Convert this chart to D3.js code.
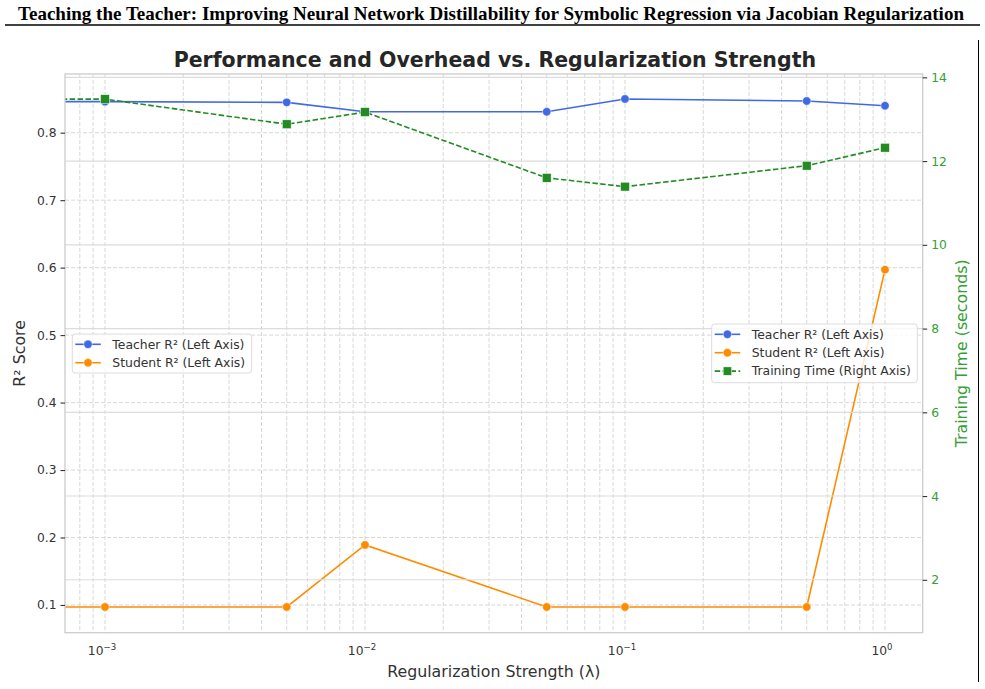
<!DOCTYPE html>
<html>
<head>
<meta charset="utf-8">
<script src="https://cdn.jsdelivr.net/npm/d3@7"></script>
<style>
  body { margin: 0; background: #fff; }
  svg { display: block; }
</style>
</head>
<body>
<div id="chart"></div>
<script>
// Data (lambda = 0 is the unregularized run, clipped off the log axis)
const lambdas = [0, 0.001, 0.005, 0.01, 0.05, 0.1, 0.5, 1.0];
const teacherR2 = [0.847, 0.846, 0.845, 0.831, 0.831, 0.85, 0.847, 0.84];
const studentR2 = [0.097, 0.097, 0.097, 0.189, 0.097, 0.097, 0.097, 0.597];
const trainingTime = [13.5, 13.48, 12.88, 13.17, 11.6, 11.39, 11.89, 12.32];

const leftTicks = [0.1, 0.2, 0.3, 0.4, 0.5, 0.6, 0.7, 0.8];
const rightTicks = [2, 4, 6, 8, 10, 12, 14];
const xMajorTicks = [1e-3, 1e-2, 1e-1, 1];
const xTickLabels = ['\u22123', '\u22122', '\u22121', '0'];

const paperTitle = 'Teaching the Teacher: Improving Neural Network Distillability for Symbolic Regression via Jacobian Regularization';
const chartTitle = 'Performance and Overhead vs. Regularization Strength';

const W = 985, H = 689;
const margin = { left: 65, right: 62.3, top: 74, bottom: 56.3 };
const width = W - margin.left - margin.right;
const height = H - margin.top - margin.bottom;

const blue = '#4169e1', orange = '#ff8c00', green = '#228b22', greenText = '#33a033';
const textCol = '#333';
const font = 'DejaVu Sans, sans-serif';

const svg = d3
  .select('#chart')
  .append('svg')
  .attr('width', W)
  .attr('height', H)
  .style('font-family', font);

// Paper header
svg
  .append('text')
  .attr('x', 491)
  .attr('y', 19.5)
  .attr('text-anchor', 'middle')
  .attr('font-family', 'Liberation Serif, Times New Roman, serif')
  .attr('font-weight', 'bold')
  .attr('font-size', '19px')
  .attr('textLength', 946)
  .attr('lengthAdjust', 'spacingAndGlyphs')
  .attr('fill', '#000')
  .text(paperTitle);
svg
  .append('line')
  .attr('x1', 5)
  .attr('x2', 980)
  .attr('y1', 25)
  .attr('y2', 25)
  .attr('stroke', '#000')
  .attr('stroke-width', 1.5);
svg
  .append('line')
  .attr('x1', 978.5)
  .attr('x2', 978.5)
  .attr('y1', 40)
  .attr('y2', 682)
  .attr('stroke', '#000')
  .attr('stroke-width', 1);

const g = svg.append('g').attr('transform', 'translate(' + margin.left + ',' + margin.top + ')');

svg
  .append('defs')
  .append('clipPath')
  .attr('id', 'plot-clip')
  .append('rect')
  .attr('width', width)
  .attr('height', height);

// Scales
const x = d3.scaleLog().domain([Math.pow(10, -3.1538), Math.pow(10, 0.145)]).range([0, width]);
const y = d3.scaleLinear().domain([0.0589, 0.887]).range([height, 0]);
const y2 = d3.scaleLinear().domain([0.737, 14.08]).range([height, 0]);

// lambda = 0 can't sit on a log axis: push it far left, the clip cuts it at the edge
const xPos = function(l) {
  return x(l > 0 ? l : 1e-9);
};

const rows = lambdas.map(function(l, i) {
  return { lambda: l, teacher: teacherR2[i], student: studentR2[i], time: trainingTime[i] };
});
const shown = rows.filter(function(d) {
  return d.lambda > 0;
});

// Vertical grid: majors and minors, dashed
const xMinor = [];
for (let e = -4; e <= 0; e++) {
  for (let k = 1; k <= 9; k++) {
    const v = k * Math.pow(10, e);
    if (v >= x.domain()[0] && v <= x.domain()[1]) xMinor.push(v);
  }
}
g.append('g')
  .selectAll('line')
  .data(xMinor)
  .join('line')
  .attr('x1', function(d) { return x(d); })
  .attr('x2', function(d) { return x(d); })
  .attr('y1', 0)
  .attr('y2', height)
  .attr('stroke', '#d4d4d4')
  .attr('stroke-width', 0.9)
  .attr('stroke-dasharray', '4,2');

// Left horizontal grid, dashed
g.append('g')
  .selectAll('line')
  .data(leftTicks)
  .join('line')
  .attr('x1', 0)
  .attr('x2', width)
  .attr('y1', function(d) { return y(d); })
  .attr('y2', function(d) { return y(d); })
  .attr('stroke', '#d4d4d4')
  .attr('stroke-width', 0.9)
  .attr('stroke-dasharray', '4,2');

const plot = g.append('g').attr('clip-path', 'url(#plot-clip)');

const teacherLine = d3.line()
  .x(function(d) { return xPos(d.lambda); })
  .y(function(d) { return y(d.teacher); });
const studentLine = d3.line()
  .x(function(d) { return xPos(d.lambda); })
  .y(function(d) { return y(d.student); });
const timeLine = d3.line()
  .x(function(d) { return xPos(d.lambda); })
  .y(function(d) { return y2(d.time); });

plot.append('path')
  .attr('d', teacherLine(rows))
  .attr('fill', 'none')
  .attr('stroke', blue)
  .attr('stroke-width', 1.6);
plot.selectAll('circle.teacher')
  .data(shown)
  .join('circle')
  .attr('class', 'teacher')
  .attr('cx', function(d) { return x(d.lambda); })
  .attr('cy', function(d) { return y(d.teacher); })
  .attr('r', 4.2)
  .attr('fill', blue)
  .attr('stroke', '#fff')
  .attr('stroke-width', 0.5);

plot.append('path')
  .attr('d', studentLine(rows))
  .attr('fill', 'none')
  .attr('stroke', orange)
  .attr('stroke-width', 1.6);
plot.selectAll('circle.student')
  .data(shown)
  .join('circle')
  .attr('class', 'student')
  .attr('cx', function(d) { return x(d.lambda); })
  .attr('cy', function(d) { return y(d.student); })
  .attr('r', 4.2)
  .attr('fill', orange)
  .attr('stroke', '#fff')
  .attr('stroke-width', 0.5);

// Legend box with line+marker handles
function drawLegend(parent, lx, ly, lw, lh, items) {
  const lg = parent.append('g').attr('transform', 'translate(' + lx + ',' + ly + ')');
  lg.append('rect')
    .attr('width', lw)
    .attr('height', lh)
    .attr('rx', 3)
    .attr('fill', '#fff')
    .attr('fill-opacity', 0.8)
    .attr('stroke', '#dcdcdc')
    .attr('stroke-width', 1);
  items.forEach(function(it, i) {
    const cy = 10.3 + i * 18.4;
    lg.append('line')
      .attr('x1', 3)
      .attr('x2', 28.5)
      .attr('y1', cy)
      .attr('y2', cy)
      .attr('stroke', it.color)
      .attr('stroke-width', 1.6)
      .attr('stroke-dasharray', it.dash ? '5.5,2.4' : null);
    if (it.square) {
      lg.append('rect')
        .attr('x', 15.7 - 4.2)
        .attr('y', cy - 4.2)
        .attr('width', 8.4)
        .attr('height', 8.4)
        .attr('fill', it.color)
        .attr('stroke', '#fff')
        .attr('stroke-width', 0.5);
    } else {
      lg.append('circle')
        .attr('cx', 15.7)
        .attr('cy', cy)
        .attr('r', 4.2)
        .attr('fill', it.color)
        .attr('stroke', '#fff')
        .attr('stroke-width', 0.5);
    }
    lg.append('text')
      .attr('x', 40)
      .attr('y', cy + 4.3)
      .attr('font-size', '12.4px')
      .attr('fill', textCol)
      .text(it.label);
  });
}

// Left legend belongs to the left axes, so it sits under the right axes' grid
drawLegend(g, 72.3 - margin.left, 334 - margin.top, 179.4, 39, [
  { label: 'Teacher R\u00b2 (Left Axis)', color: blue },
  { label: 'Student R\u00b2 (Left Axis)', color: orange }
]);

// Right axes: solid grid, then training time
g.append('g')
  .selectAll('line')
  .data(rightTicks)
  .join('line')
  .attr('x1', 0)
  .attr('x2', width)
  .attr('y1', function(d) { return y2(d); })
  .attr('y2', function(d) { return y2(d); })
  .attr('stroke', '#dcdcdc')
  .attr('stroke-width', 1.1);

const plot2 = g.append('g').attr('clip-path', 'url(#plot-clip)');
plot2.append('path')
  .attr('d', timeLine(rows))
  .attr('fill', 'none')
  .attr('stroke', green)
  .attr('stroke-width', 1.6)
  .attr('stroke-dasharray', '5.5,2.4');
plot2.selectAll('rect.time')
  .data(shown)
  .join('rect')
  .attr('class', 'time')
  .attr('x', function(d) { return x(d.lambda) - 4.4; })
  .attr('y', function(d) { return y2(d.time) - 4.4; })
  .attr('width', 8.8)
  .attr('height', 8.8)
  .attr('fill', green)
  .attr('stroke', '#fff')
  .attr('stroke-width', 0.5);

// Spines
g.append('rect')
  .attr('width', width)
  .attr('height', height)
  .attr('fill', 'none')
  .attr('stroke', '#cccccc')
  .attr('stroke-width', 1.3);

// Left axis
const yAxis = g.append('g')
  .call(d3.axisLeft(y).tickValues(leftTicks).tickSize(4.5).tickPadding(4).tickFormat(d3.format('.1f')));
yAxis.select('.domain').remove();
yAxis.selectAll('line').attr('stroke', '#333').attr('stroke-width', 1.1);
yAxis.selectAll('text').attr('font-family', font).attr('font-size', '12.3px').attr('fill', textCol);

// Right axis
const y2Axis = g.append('g')
  .attr('transform', 'translate(' + width + ',0)')
  .call(d3.axisRight(y2).tickValues(rightTicks).tickSize(4.5).tickPadding(4).tickFormat(d3.format('d')));
y2Axis.select('.domain').remove();
y2Axis.selectAll('line').attr('stroke', '#333').attr('stroke-width', 1.1);
y2Axis.selectAll('text').attr('font-family', font).attr('font-size', '12.3px').attr('fill', greenText);

// Bottom axis: 10^n labels, no tick marks
const xAxis = g.append('g').attr('transform', 'translate(0,' + height + ')');
xMajorTicks.forEach(function(v, i) {
  const t = xAxis.append('text')
    .attr('x', x(v) - 3)
    .attr('y', 22.5)
    .attr('text-anchor', 'middle')
    .attr('font-size', '12.3px')
    .attr('fill', textCol);
  t.append('tspan').text('10');
  t.append('tspan')
    .attr('dy', -5.5)
    .attr('font-size', '8.6px')
    .text(xTickLabels[i]);
});

// Axis labels and title
svg.append('text')
  .attr('x', margin.left + width / 2)
  .attr('y', 677)
  .attr('text-anchor', 'middle')
  .attr('font-size', '15.8px')
  .attr('fill', textCol)
  .text('Regularization Strength (\u03bb)');

svg.append('text')
  .attr('transform', 'translate(25,' + (margin.top + height / 2) + ') rotate(-90)')
  .attr('text-anchor', 'middle')
  .attr('font-size', '15.8px')
  .attr('fill', textCol)
  .text('R\u00b2 Score');

svg.append('text')
  .attr('transform', 'translate(967,' + (margin.top + height / 2) + ') rotate(-90)')
  .attr('text-anchor', 'middle')
  .attr('font-size', '15.8px')
  .attr('fill', greenText)
  .text('Training Time (seconds)');

svg.append('text')
  .attr('x', margin.left + width / 2 + 1)
  .attr('y', 67)
  .attr('text-anchor', 'middle')
  .attr('font-size', '20.5px')
  .attr('font-weight', 'bold')
  .attr('fill', '#262626')
  .text(chartTitle);

// Right legend (on top of everything in the right axes)
drawLegend(g, 711.7 - margin.left, 324 - margin.top, 205.6, 58.7, [
  { label: 'Teacher R\u00b2 (Left Axis)', color: blue },
  { label: 'Student R\u00b2 (Left Axis)', color: orange },
  { label: 'Training Time (Right Axis)', color: green, dash: true, square: true }
]);
</script>
</body>
</html>
